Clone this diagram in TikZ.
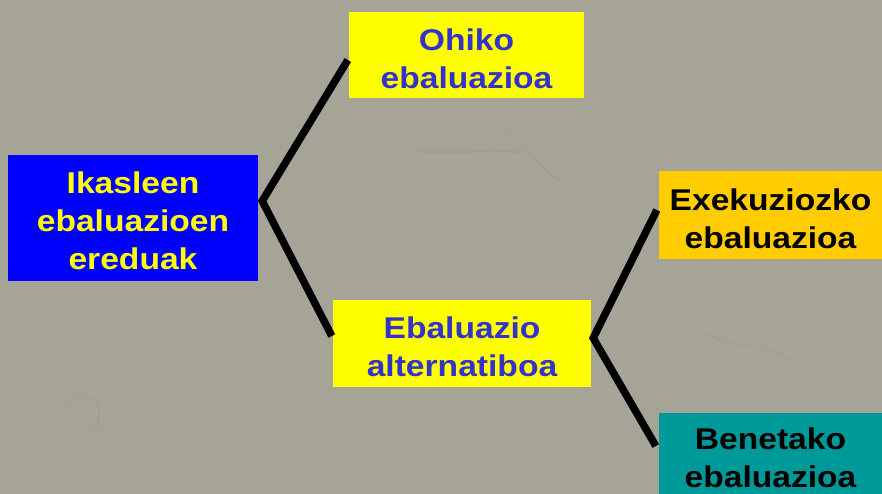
\documentclass[tikz,border=0pt]{standalone}
\usepackage{fontspec}
\newfontfamily\boxfont{Liberation Sans}[FakeStretch=1.12]
\usetikzlibrary{calc}
\definecolor{marble}{RGB}{166,164,151}
\definecolor{marbledark}{RGB}{150,146,132}
\definecolor{boxblue}{RGB}{0,0,255}
\definecolor{boxyellow}{RGB}{255,255,0}
\definecolor{txtblue}{RGB}{51,51,204}
\definecolor{boxorange}{RGB}{255,204,0}
\definecolor{boxteal}{RGB}{0,153,153}
\tikzset{
  box/.style={rectangle, inner sep=0pt},
  boxtext/.style={inner sep=0pt, align=center,
    font=\boxfont\bfseries\fontsize{30}{38}\selectfont},
  link/.style={line width=7.5pt, line cap=butt, line join=miter, black}
}
\begin{document}
\begin{tikzpicture}[x=1pt,y=-1pt]
\useasboundingbox (0,0) rectangle (882,494);
\clip (0,0) rectangle (882,494);
\fill[marble] (0,0) rectangle (882,494);
% faint marble veins
\draw[marbledark, line width=0.6pt, opacity=0.5] (60,410) .. controls (80,380) and (110,400) .. (95,430);
\draw[marbledark, line width=0.6pt, opacity=0.5] (510,130) .. controls (530,150) and (540,170) .. (560,180);
\draw[marbledark!80!brown, line width=3pt, opacity=0.25] (415,150) .. controls (450,155) and (480,148) .. (520,152);
\draw[marbledark, line width=0.6pt, opacity=0.5] (700,330) .. controls (730,350) and (760,340) .. (790,360);

\node[box, fill=boxblue, minimum width=250, minimum height=126] (root) at (133,218) {};
\node[boxtext, text=boxyellow] (roott) at ($(root.center)+(0,2.5)$) {Ikasleen\\ebaluazioen\\ereduak};
\node[box, fill=boxyellow, minimum width=235, minimum height=86] (ohiko) at (466.5,55) {};
\node[boxtext, text=txtblue] (ohikot) at ($(ohiko.center)+(0,3.5)$) {Ohiko\\ebaluazioa};
\node[box, fill=boxyellow, minimum width=258, minimum height=87] (alt) at (462,343.5) {};
\node[boxtext, text=txtblue] (altt) at ($(alt.center)+(0,3.5)$) {Ebaluazio\\alternatiboa};
\node[box, fill=boxorange, minimum width=223, minimum height=88] (exe) at (770.5,215) {};
\node[boxtext, text=black] (exet) at ($(exe.center)+(0,3.5)$) {Exekuziozko\\ebaluazioa};
\node[box, fill=boxteal, minimum width=223, minimum height=88] (ben) at (770.5,457) {};
\node[boxtext, text=black] (bent) at ($(ben.center)+(0,1)$) {Benetako\\ebaluazioa};

\coordinate (v1) at ($(root.east)+(4,-17)$);
\coordinate (e1) at ($(ohiko.west)+(-1,5)$);
\coordinate (e2) at ($(alt.west)+(-1,-7.5)$);
\coordinate (v2) at ($(alt.east)+(2,-5.5)$);
\coordinate (e3) at ($(exe.west)+(-2,-5)$);
\coordinate (e4) at ($(ben.west)+(-3,-11)$);

\draw[link] (e1) -- (v1) -- (e2);
\draw[link] (e3) -- (v2) -- (e4);
\end{tikzpicture}
\end{document}
